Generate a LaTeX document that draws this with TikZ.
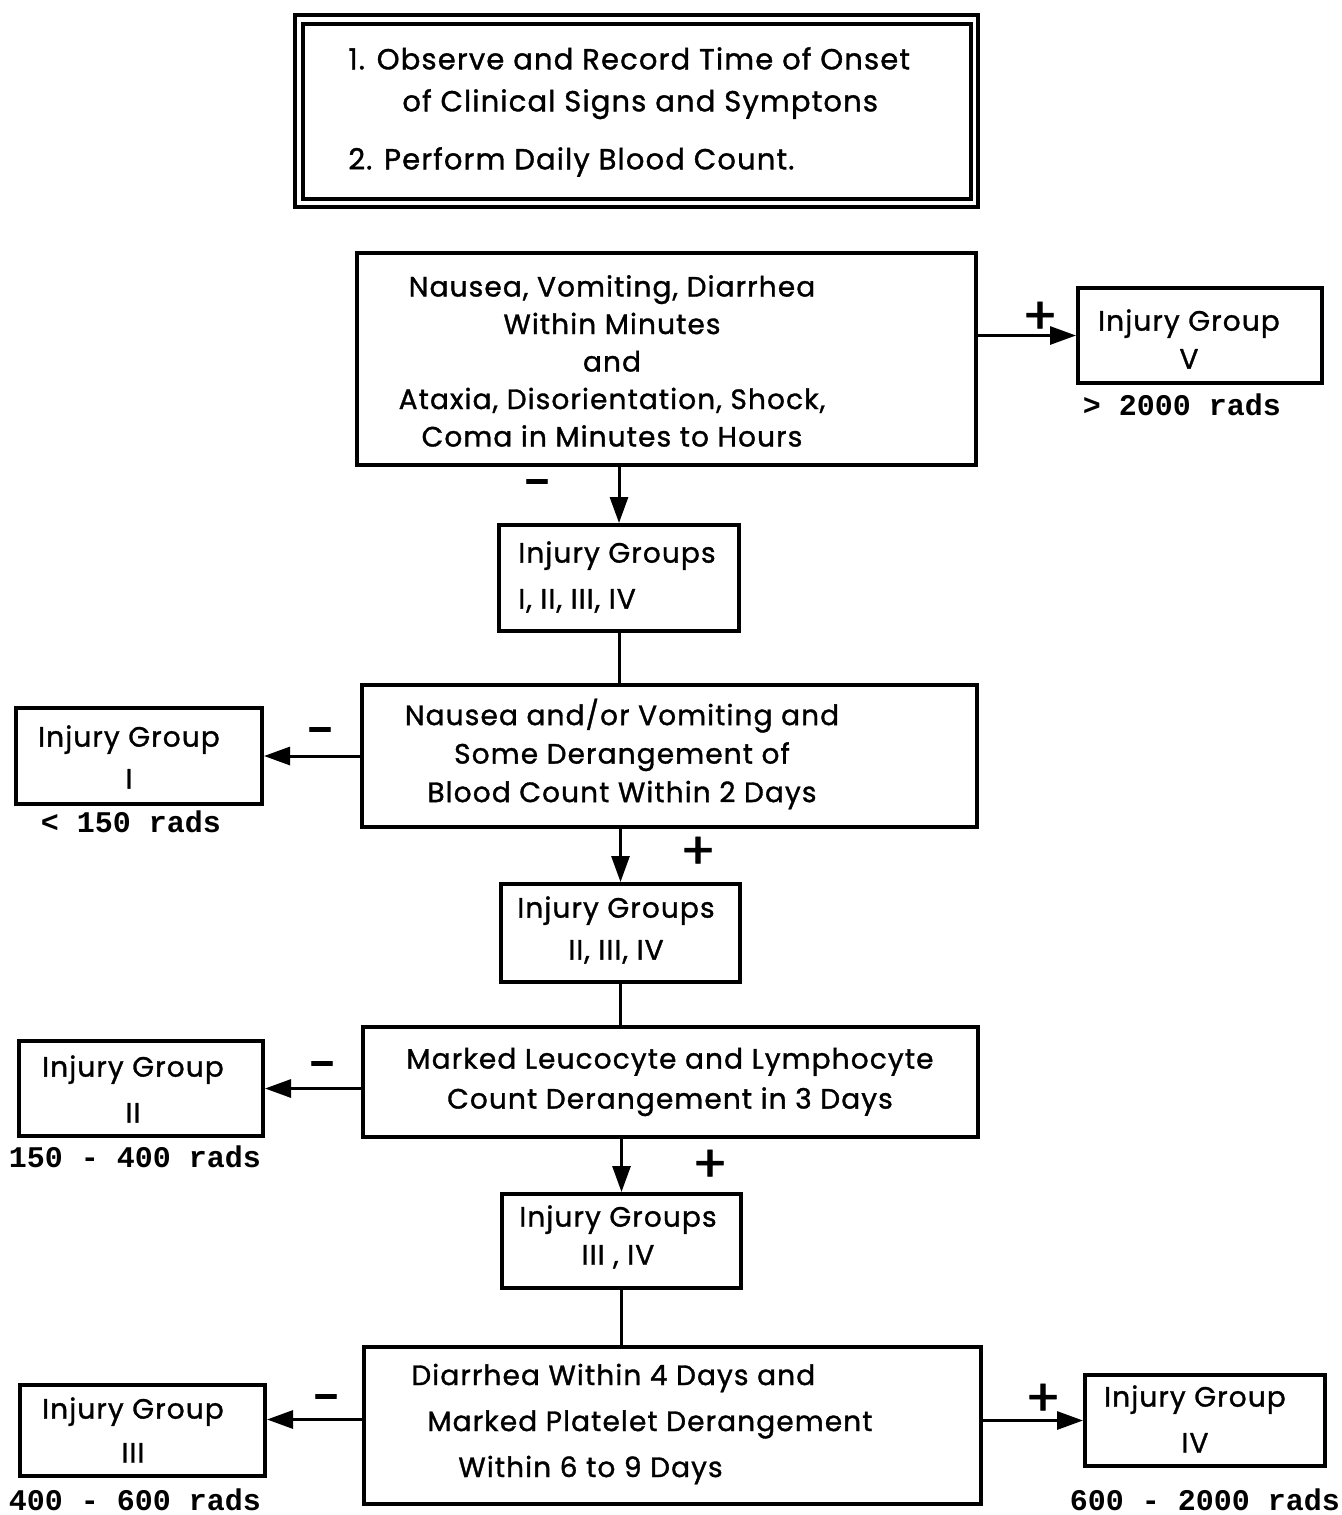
\documentclass[tikz,border=0pt]{standalone}
\usepackage{fontspec}
\usetikzlibrary{arrows.meta,fit}
\newfontfamily\lett[LetterSpace=4,FakeBold=1.2]{Poppins}
\newfontfamily\tw{Liberation Mono}
\tikzset{
  x=0.5pt, y=-0.5pt,
  box/.style={draw, line width=2pt, inner sep=0pt},
  dbox/.style={draw, line width=1.6pt, inner sep=0pt},
  txt/.style={align=center, inner sep=0pt, font=\lett\fontsize{14}{19}\selectfont},
  rad/.style={inner sep=0pt, font=\tw\bfseries\fontsize{15}{18}\selectfont},
  sign/.style={inner sep=0pt, font=\lett\fontsize{26}{26}\selectfont},
  arr/.style={line width=1.5pt, -{Triangle[length=13pt,width=9pt]}},
  ln/.style={line width=1.5pt}
}
\begin{document}
\begin{tikzpicture}
\useasboundingbox (0,0) rectangle (1342,1515);
% top double box
\node[dbox, fit={(295,15) (978,207)}] (T) {};
\node[dbox, fit={(303,24) (971,199)}] (Ti) {};
\node[txt, align=left, anchor=west, font=\lett\fontsize{14.5}{21}\selectfont] (Tt) at (348,112)
  {1. Observe and Record Time of Onset\\
   \hspace*{27pt}of Clinical Signs and Symptons\\[8pt]
   2. Perform Daily Blood Count.};
% boxes
\node[box, fit={(357,253) (976,465)}] (A) {};
\node[txt, font=\lett\fontsize{14}{18.75}\selectfont] (At) at (612,361)
  {Nausea, Vomiting, Diarrhea\\Within Minutes\\and\\Ataxia, Disorientation, Shock,\\Coma in Minutes to Hours};
\node[box, fit={(1078,288) (1322,383)}] (V) {};
\node[txt] (Vt) at (1189,339) {Injury Group\\V};
\node[rad] (Vr) at (1182,405) {> 2000 rads};

\node[box, fit={(499,525) (739,631)}] (G1) {};
\node[txt, align=left, font=\lett\fontsize{14}{23}\selectfont] (G1t) at (617,577) {Injury Groups\\I, II, III, IV};

\node[box, fit={(362,685) (977,827)}] (B) {};
\node[txt, font=\lett\fontsize{14}{19.25}\selectfont] (Bt) at (622,754)
  {Nausea and/or Vomiting and\\Some Derangement of\\Blood Count Within 2 Days};
\node[box, fit={(16,708) (262,804)}] (I) {};
\node[txt, font=\lett\fontsize{14}{21}\selectfont] (It) at (129,757) {Injury Group\\I};
\node[rad] (Ir) at (131,822) {< 150 rads};

\node[box, fit={(501,884) (740,982)}] (G2) {};
\node[txt, font=\lett\fontsize{14}{21}\selectfont] (G2t) at (616,930) {Injury Groups\\II, III, IV};

\node[box, fit={(363,1027) (978,1137)}] (C) {};
\node[txt, font=\lett\fontsize{14}{20}\selectfont] (Ct) at (670,1082)
  {Marked Leucocyte and Lymphocyte\\Count Derangement in 3 Days};
\node[box, fit={(19,1041) (263,1136)}] (II) {};
\node[txt, font=\lett\fontsize{14}{23}\selectfont] (IIt) at (133,1089) {Injury Group\\II};
\node[rad] (IIr) at (135,1157) {150 - 400 rads};

\node[box, fit={(502,1194) (741,1288)}] (G3) {};
\node[txt, font=\lett\fontsize{14}{19}\selectfont] (G3t) at (618,1237) {Injury Groups\\III , IV};

\node[box, fit={(364,1347) (981,1504)}] (D) {};
\node[txt, align=left, anchor=west, font=\lett\fontsize{14}{23}\selectfont] (Dt) at (411,1424)
  {Diarrhea Within 4 Days and\\\hspace*{8pt}Marked Platelet Derangement\\\hspace*{23.5pt}Within 6 to 9 Days};
\node[box, fit={(20,1385) (265,1476)}] (III) {};
\node[txt, font=\lett\fontsize{14}{22}\selectfont] (IIIt) at (133,1430) {Injury Group\\III};
\node[rad] (IIIr) at (135,1500) {400 - 600 rads};
\node[box, fit={(1085,1375) (1325,1466)}] (IV) {};
\node[txt, font=\lett\fontsize{14}{23}\selectfont] (IVt) at (1195,1419) {Injury Group\\IV};
\node[rad] (IVr) at (1205,1500) {600 - 2000 rads};

% connectors
\draw[arr] (A.east |- V.west) -- (V.west);
\draw[arr] (G1.north |- A.south) -- (G1.north);
\draw[ln] (G1.south) -- (G1.south |- B.north);
\draw[arr] (B.west |- I.east) -- (I.east);
\draw[arr] (G2.north |- B.south) -- (G2.north);
\draw[ln] (G2.south) -- (G2.south |- C.north);
\draw[arr] (C.west |- II.east) -- (II.east);
\draw[arr] (G3.north |- C.south) -- (G3.north);
\draw[ln] (G3.south) -- (G3.south |- D.north);
\draw[arr] ([yshift=5.5pt]D.west |- III.east) -- ([yshift=5.5pt]III.east);
\draw[arr] (D.east |- IV.west) -- (IV.west);

% signs
\node[sign] (s1) at (1040,318) {+};
\node[sign] (s2) at (537,490) {−};
\node[sign] (s3) at (320,738) {−};
\node[sign] (s4) at (698,853) {+};
\node[sign] (s5) at (322,1072) {−};
\node[sign] (s6) at (710,1166) {+};
\node[sign] (s7) at (326,1405) {−};
\node[sign] (s8) at (1043,1400) {+};
\end{tikzpicture}
\end{document}
